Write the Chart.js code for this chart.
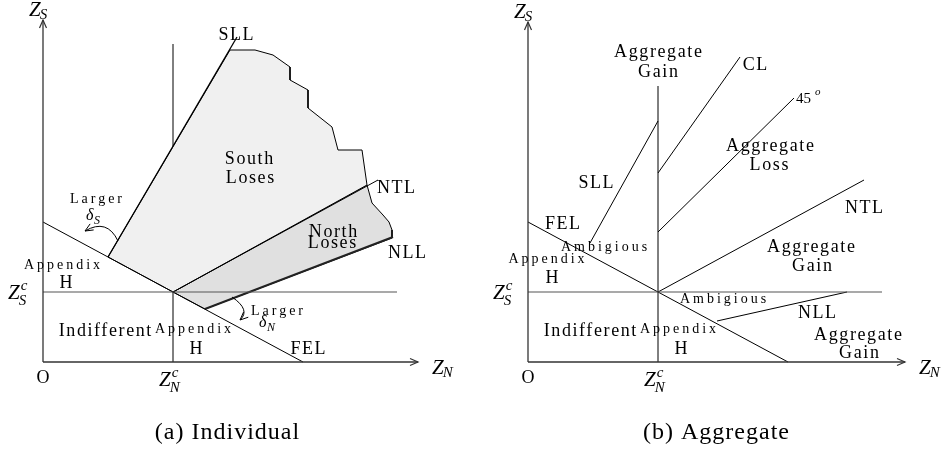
<!DOCTYPE html>
<html>
<head>
<meta charset="utf-8">
<script src="https://cdn.jsdelivr.net/npm/chart.js@4.4.1/dist/chart.umd.min.js"></script>
<style>
html, body { margin: 0; padding: 0; background: #fff; }
#wrap { position: relative; width: 943px; height: 459px; }
.box { position: absolute; top: 0; height: 459px; }
</style>
</head>
<body>
<div id="wrap">
  <div class="box" style="left:0;width:471px"><canvas id="individualChart"></canvas></div>
  <div class="box" style="left:471px;width:472px"><canvas id="aggregateChart"></canvas></div>
</div>
<script>
// thresholds (same for both panels)
var zNc = 13, zSc = 7;

// ---- (a) Individual ----
var indYAxis = [{x: 0, y: 0}, {x: 0, y: 34.2}];
var indXAxis = [{x: 0, y: 0}, {x: 37.5, y: 0}];
var indZScLine = [{x: 0, y: zSc}, {x: 35.4, y: zSc}];
var indZNcLine = [{x: zNc, y: 0}, {x: zNc, y: zSc}];
var indUpperLine = [{x: zNc, y: 21.6}, {x: zNc, y: 31.8}];
var indFEL = [{x: 0, y: 14.0}, {x: 26.0, y: 0}];
var indSLL = [{x: 6.5, y: 10.5}, {x: 19.4, y: 32.5}];
var indNTL = [{x: zNc, y: zSc}, {x: 33.5, y: 18.2}];
var indNLL = [{x: 16.2, y: 5.3}, {x: 35.0, y: 12.5}];
var southLoses = [
  {x: 6.5, y: 10.5}, {x: 18.7, y: 31.2}, {x: 21.2, y: 31.2}, {x: 23.0, y: 30.7},
  {x: 24.7, y: 29.5}, {x: 24.7, y: 28.2}, {x: 26.5, y: 27.2}, {x: 26.5, y: 25.4},
  {x: 28.9, y: 23.5}, {x: 29.5, y: 21.2}, {x: 31.9, y: 21.2}, {x: 32.4, y: 17.7},
  {x: zNc, y: zSc}, {x: 6.5, y: 10.5}
];
var northLoses = [
  {x: zNc, y: zSc}, {x: 32.4, y: 17.7}, {x: 32.9, y: 15.9}, {x: 34.0, y: 14.7},
  {x: 34.6, y: 14.0}, {x: 34.9, y: 13.2}, {x: 34.9, y: 12.4}, {x: 16.2, y: 5.3},
  {x: zNc, y: zSc}
];

// ---- (b) Aggregate ----
var aggYAxis = [{x: 0, y: 0}, {x: 0, y: 34.0}];
var aggXAxis = [{x: 0, y: 0}, {x: 37.7, y: 0}];
var aggZScLine = [{x: 0, y: zSc}, {x: 35.4, y: zSc}];
var aggZNcLine = [{x: zNc, y: 0}, {x: zNc, y: 27.6}];
var aggFEL = [{x: 0, y: 14.0}, {x: 26.0, y: 0}];
var aggSLL = [{x: 6.2, y: 11.9}, {x: zNc, y: 24.1}];
var aggCL = [{x: zNc, y: 18.9}, {x: 21.2, y: 30.5}];
var agg45 = [{x: zNc, y: 13.0}, {x: 26.6, y: 26.4}];
var aggNTL = [{x: zNc, y: zSc}, {x: 33.6, y: 18.2}];
var aggNLL = [{x: 18.9, y: 4.1}, {x: 31.9, y: zSc}];

// text labels: [text, x, y, kind]
var indLabels = [
  ['SLL', 19.3, 32.7, 'big'], ['South', 20.6, 20.3, 'big'], ['Loses', 20.7, 18.4, 'big'],
  ['NTL', 35.3, 17.4, 'big'], ['North', 29.0, 13.0, 'big'], ['Loses', 28.9, 11.9, 'big'],
  ['NLL', 36.4, 10.9, 'big'], ['Larger', 5.3, 16.3, 'small'], ['Appendix', 1.9, 9.7, 'small'],
  ['H', 2.3, 7.9, 'big'], ['Indifferent', 6.2, 3.1, 'big'], ['Appendix', 15.0, 3.3, 'small'],
  ['H', 15.3, 1.3, 'big'], ['FEL', 26.5, 1.3, 'big'], ['Larger', 23.4, 5.1, 'small'],
  ['O', 0, -1.6, 'big']
];
var aggLabels = [
  ['Aggregate', 13.0, 31.0, 'big'], ['Gain', 13.0, 29.0, 'big'], ['CL', 22.7, 29.7, 'big'],
  ['Aggregate', 24.2, 21.6, 'big'], ['Loss', 24.1, 19.7, 'big'], ['SLL', 6.8, 17.9, 'big'],
  ['NTL', 33.6, 15.4, 'big'], ['FEL', 3.45, 13.8, 'big'], ['Ambigious', 7.6, 11.5, 'small'],
  ['Appendix', 1.85, 10.3, 'small'], ['H', 2.4, 8.4, 'big'], ['Aggregate', 28.3, 11.5, 'big'],
  ['Gain', 28.4, 9.6, 'big'], ['Ambigious', 19.5, 6.3, 'small'], ['NLL', 28.9, 4.9, 'big'],
  ['Indifferent', 6.2, 3.1, 'big'], ['Appendix', 15.0, 3.3, 'small'], ['H', 15.3, 1.3, 'big'],
  ['Aggregate', 33.0, 2.7, 'big'], ['Gain', 33.1, 0.9, 'big'], ['O', 0, -1.6, 'big']
];

function line(data, color, width) {
  return {data: data, showLine: true, borderColor: color || '#000', borderWidth: width || 1,
          pointRadius: 0, tension: 0, fill: false, order: 1};
}
function region(data, color) {
  return {data: data, showLine: true, borderColor: '#000', borderWidth: 1, backgroundColor: color,
          pointRadius: 0, tension: 0, fill: 'shape', order: 5};
}

function txt(ctx, t, x, y, kind, align) {
  var big = kind === 'big';
  ctx.font = (big ? 18 : 14) + 'px "Liberation Serif"';
  ctx.letterSpacing = (big ? 1.6 : 3) + 'px';
  ctx.textAlign = align || 'center';
  ctx.textBaseline = 'middle';
  ctx.fillStyle = '#000';
  ctx.fillText(t, x + (align ? 0 : (big ? 0.8 : 1.5)), y);
}

// Z with subscript / superscript, x is the left edge of the Z
function mathZ(ctx, base, sub, sup, x, y) {
  ctx.letterSpacing = '0px';
  ctx.textAlign = 'left';
  ctx.textBaseline = 'middle';
  ctx.fillStyle = '#000';
  ctx.font = 'italic 21px "Liberation Serif"';
  ctx.fillText(base, x, y);
  var w = ctx.measureText(base).width;
  ctx.font = 'italic 15px "Liberation Serif"';
  if (sup) ctx.fillText(sup, x + w + 1, y - 7);
  if (sub) ctx.fillText(sub, x + w - 1, y + (sup ? 8 : 5));
}

function arrowHead(ctx, x, y, dx, dy) {
  var len = Math.sqrt(dx * dx + dy * dy);
  var ux = dx / len, uy = dy / len;
  ctx.beginPath();
  ctx.moveTo(x - ux * 8 + uy * 3.5, y - uy * 8 - ux * 3.5);
  ctx.lineTo(x, y);
  ctx.lineTo(x - ux * 8 - uy * 3.5, y - uy * 8 + ux * 3.5);
  ctx.stroke();
}

function curvedArrow(ctx, sx, sy, cx, cy, ex, ey) {
  ctx.strokeStyle = '#000';
  ctx.lineWidth = 1;
  ctx.beginPath();
  ctx.moveTo(sx, sy);
  ctx.quadraticCurveTo(cx, cy, ex, ey);
  ctx.stroke();
  arrowHead(ctx, ex, ey, ex - cx, ey - cy);
}

function decorPlugin(labels, yTop, xRight, caption, extra) {
  return {
    id: 'decor',
    afterDatasetsDraw: function (chart) {
      var ctx = chart.ctx, sx = chart.scales.x, sy = chart.scales.y;
      var X = function (v) { return sx.getPixelForValue(v); };
      var Y = function (v) { return sy.getPixelForValue(v); };
      ctx.save();
      ctx.strokeStyle = '#333';
      ctx.lineWidth = 1.2;
      arrowHead(ctx, X(0), Y(yTop), 0, -1);
      arrowHead(ctx, X(xRight), Y(0), 1, 0);
      labels.forEach(function (l) { txt(ctx, l[0], X(l[1]), Y(l[2]), l[3]); });
      mathZ(ctx, 'Z', 'S', null, X(0) - 14, Y(yTop) - 10);
      mathZ(ctx, 'Z', 'N', null, X(xRight) + 14, Y(0) + 6);
      mathZ(ctx, 'Z', 'S', 'c', X(0) - 35, Y(zSc) + 1);
      mathZ(ctx, 'Z', 'N', 'c', X(zNc) - 14, Y(-1.8));
      if (extra) extra(ctx, X, Y);
      ctx.font = '24px "Liberation Serif"';
      ctx.letterSpacing = '1px';
      ctx.textAlign = 'center';
      ctx.textBaseline = 'middle';
      ctx.fillText(caption[0], caption[1] + 0.5, 433);
      ctx.restore();
    }
  };
}

function makeChart(id, datasets, xmin, xmax, plugin) {
  return new Chart(document.getElementById(id).getContext('2d'), {
    type: 'scatter',
    data: {datasets: datasets},
    options: {
      responsive: true,
      maintainAspectRatio: false,
      animation: false,
      layout: {padding: 0},
      scales: {
        x: {type: 'linear', display: false, min: xmin, max: xmax},
        y: {type: 'linear', display: false, min: -9.7, max: 36.2}
      },
      plugins: {legend: {display: false}, tooltip: {enabled: false}}
    },
    plugins: [plugin]
  });
}

var individualChart = makeChart('individualChart', [
  line(indYAxis, '#333', 1.3), line(indXAxis, '#333', 1.3),
  line(indZScLine, '#555', 1.2), line(indZNcLine), line(indUpperLine),
  line(indFEL), line(indSLL, '#000', 1.3), line(indNTL), line(indNLL, '#222', 2),
  region(southLoses, '#f0f0f0'), region(northLoses, '#e0e0e0')
], -4.3, 42.8, decorPlugin(indLabels, 34.2, 37.5, ['(a) Individual', 227], function (ctx, X, Y) {
  ctx.font = 'italic 16px "Liberation Serif"';
  ctx.letterSpacing = '0px';
  ctx.textAlign = 'left';
  ctx.fillText('\u03b4', X(4.3), Y(14.6));
  ctx.font = 'italic 12px "Liberation Serif"';
  ctx.fillText('S', X(5.1), Y(14.1));
  ctx.font = 'italic 16px "Liberation Serif"';
  ctx.fillText('\u03b4', X(21.6), Y(3.9));
  ctx.font = 'italic 12px "Liberation Serif"';
  ctx.fillText('N', X(22.4), Y(3.4));
  curvedArrow(ctx, X(7.5), Y(12.1), X(6.4), Y(14.4), X(4.2), Y(13.1));
  curvedArrow(ctx, X(18.9), Y(6.5), X(20.8), Y(5.2), X(19.7), Y(4.2));
}));

var aggregateChart = makeChart('aggregateChart', [
  line(aggYAxis, '#333', 1.3), line(aggXAxis, '#333', 1.3),
  line(aggZScLine, '#555', 1.2), line(aggZNcLine),
  line(aggFEL), line(aggSLL), line(aggCL), line(agg45), line(aggNTL), line(aggNLL)
], -5.7, 41.5, decorPlugin(aggLabels, 34.0, 37.7, ['(b) Aggregate', 245], function (ctx, X, Y) {
  ctx.font = '15px "Liberation Serif"';
  ctx.letterSpacing = '0px';
  ctx.textAlign = 'left';
  ctx.textBaseline = 'middle';
  ctx.fillText('45', X(26.8), Y(26.3));
  ctx.font = 'italic 11px "Liberation Serif"';
  ctx.fillText('o', X(28.7), Y(27.0));
}));
</script>
</body>
</html>
